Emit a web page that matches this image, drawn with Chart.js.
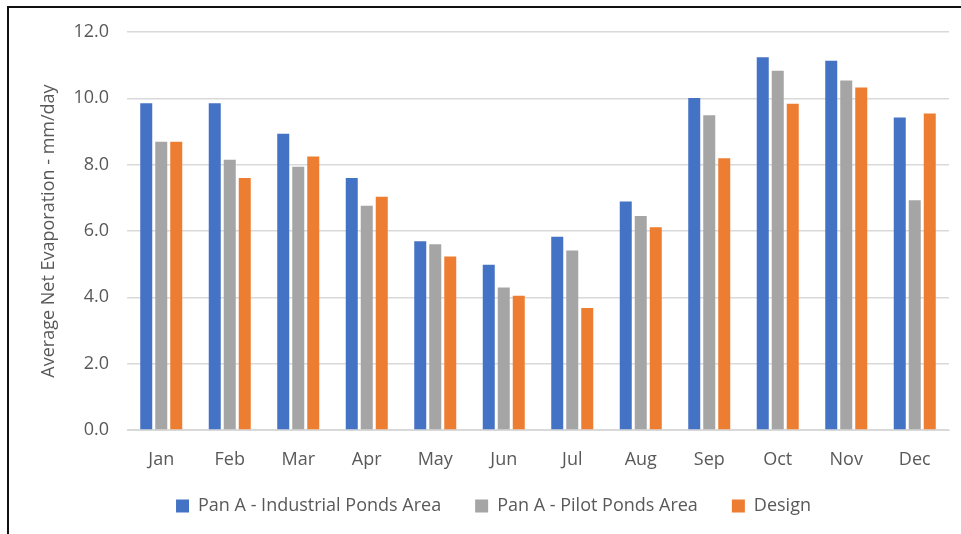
<!DOCTYPE html>
<html>
<head>
<meta charset="utf-8">
<script src="https://cdn.jsdelivr.net/npm/chart.js@4.4.1/dist/chart.umd.min.js"></script>
<style>
  html, body { margin: 0; padding: 0; background: #fff; }
  #frame {
    position: absolute; left: 7px; top: 6px; width: 960px; height: 534px;
    border-top: 2px solid #111; border-left: 2px solid #111;
  }
  #wrap { position: absolute; left: 0; top: 0; width: 961px; height: 534px; }
</style>
</head>
<body>
<div id="frame"></div>
<div id="wrap"><canvas id="evapChart"></canvas></div>
<script>
// monthly average net evaporation, mm/day
const months = ["Jan", "Feb", "Mar", "Apr", "May", "Jun", "Jul", "Aug", "Sep", "Oct", "Nov", "Dec"];
const industrialPonds = [9.85, 9.85, 8.93, 7.60, 5.69, 4.98, 5.83, 6.89, 10.01, 11.24, 11.13, 9.42];
const pilotPonds = [8.69, 8.15, 7.94, 6.76, 5.60, 4.30, 5.41, 6.45, 9.49, 10.83, 10.54, 6.93];
const design = [8.69, 7.60, 8.25, 7.03, 5.23, 4.05, 3.68, 6.11, 8.19, 9.84, 10.33, 9.54];

const seriesNames = ["Pan A - Industrial Ponds Area", "Pan A - Pilot Ponds Area", "Design"];
const seriesColors = ["#4472C4", "#A5A5A5", "#ED7D31"];

const fontFamily = "'Open Sans', sans-serif";
const textColor = "#595959";

function makeDataset(i, values) {
  return {
    label: seriesNames[i],
    data: values,
    backgroundColor: seriesColors[i],
    borderWidth: 0,
    categoryPercentage: 0.657,
    barPercentage: 0.8
  };
}

// nudge the legend row up and to the right after layout
const legendNudge = {
  id: "legendNudge",
  afterUpdate(chart) {
    const lg = chart.legend;
    lg.top -= 11;
    lg.bottom -= 11;
    lg.left += 19;
    lg.right += 19;
  }
};

const ctx = document.getElementById("evapChart").getContext("2d");

new Chart(ctx, {
  type: "bar",
  data: {
    labels: months,
    datasets: [
      makeDataset(0, industrialPonds),
      makeDataset(1, pilotPonds),
      makeDataset(2, design)
    ]
  },
  plugins: [legendNudge],
  options: {
    responsive: true,
    maintainAspectRatio: false,
    animation: false,
    layout: { padding: { left: 0, right: 12, top: 32, bottom: 0 } },
    plugins: {
      tooltip: { enabled: false },
      legend: {
        position: "bottom",
        maxHeight: 60,
        labels: {
          color: textColor,
          font: { family: fontFamily, size: 18 },
          boxWidth: 13,
          boxHeight: 13,
          padding: 34
        }
      }
    },
    scales: {
      x: {
        grid: { display: false, drawTicks: false },
        border: { color: "#D9D9D9", width: 1 },
        ticks: {
          color: textColor,
          font: { family: fontFamily, size: 18 },
          padding: 19
        },
        afterFit: function(scale) { scale.height = 44; }
      },
      y: {
        min: 0,
        max: 12,
        ticks: {
          stepSize: 2,
          color: textColor,
          font: { family: fontFamily, size: 18 },
          padding: 18,
          callback: function(v) { return v.toFixed(1); }
        },
        grid: { color: "#D9D9D9", lineWidth: 1.5, drawTicks: false },
        border: { display: false },
        title: {
          display: true,
          text: "Average Net Evaporation - mm/day",
          color: textColor,
          font: { family: fontFamily, size: 18 },
          padding: { top: 38, bottom: 0 }
        },
        afterFit: function(scale) { scale.width = 127; }
      }
    }
  }
});
</script>
</body>
</html>
